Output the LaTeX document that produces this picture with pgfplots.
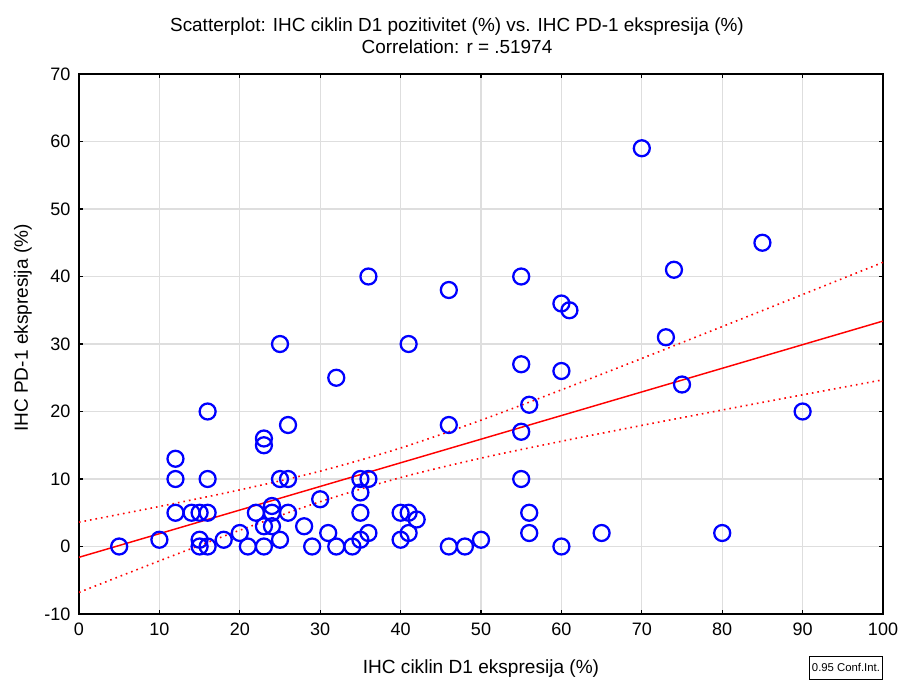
\documentclass[border=0pt]{standalone}
\usepackage{fontspec}
\setmainfont{Liberation Sans}
\usepackage{pgfplots}
\pgfplotsset{compat=1.18}
\usepackage{pgfplotstable}

% IHC ciklin D1 (x) vs. IHC PD-1 (y), one row per case
\pgfplotstableread{
x y
5 0
10 1
12 13
12 10
12 5
14 5
15 5
15 1
15 0
16 5
16 0
16 10
16 20
18 1
20 2
21 0
22 5
23 16
23 15
23 3
23 0
24 6
24 5
24 3
25 10
25 30
25 1
26 10
26 18
26 5
28 3
29 0
30 7
31 2
32 25
32 0
34 0
35 1
35 10
35 8
35 5
36 2
36 10
36 40
40 5
40 1
41 5
41 2
41 30
42 4
46 38
46 18
46 0
48 0
50 1
55 40
55 27
55 17
55 10
56 21
56 5
56 2
60 36
60 26
60 0
61 35
65 2
70 59
73 31
74 41
75 24
80 2
85 45
90 20
}\scatterdata

% fitted line with its 0.95 confidence band
\pgfplotstableread{
x fit lo hi
0 -1.6 -6.8 3.6
10 1.9 -2.13 5.93
20 5.4 2.41 8.39
30 8.9 6.64 11.16
40 12.4 10.21 14.59
50 15.9 13.09 18.71
60 19.4 15.59 23.21
70 22.9 17.94 27.86
80 26.4 20.22 32.58
90 29.9 22.47 37.33
100 33.4 24.7 42.1
}\fitdata

\begin{document}
\begin{tikzpicture}[x=0.75pt,y=0.75pt]
% page frame: 903 x 679 px, axis box at px (79..883, 74..614)
\path[use as bounding box] (-79,-65) rectangle (824,614);
\begin{axis}[
  at={(0,0)}, anchor=south west,
  scale only axis,
  width=603pt, height=405pt,
  xmin=0, xmax=100, ymin=-10, ymax=70,
  xtick={0,10,...,100}, ytick={-10,0,...,70},
  tick align=inside,
  major tick length=3pt,
  tick style={black, line width=0.8pt},
  grid=major,
  major grid style={draw=black!13, line width=1pt},
  axis line style={black, line width=1.1pt},
  ticklabel style={font=\fontsize{13.5}{15}\selectfont},
  /pgf/number format/assume math mode=true,
  yticklabel style={xshift=-3pt},
  xticklabel style={yshift=-3pt},
  xlabel={IHC ciklin D1 ekspresija (\%)},
  ylabel={IHC PD-1 ekspresija (\%)},
  label style={font=\fontsize{14.3}{16}\selectfont},
  xlabel style={yshift=-11.5pt},
  ylabel style={yshift=2.5pt, xshift=12pt},
  title={Scatterplot: IHC ciklin D1 pozitivitet (\%) vs. IHC PD-1 ekspresija (\%)\\Correlation: r = .51974},
  title style={font=\fontsize{14.2}{16.5}\selectfont, align=center, yshift=5.5pt, xshift=-18pt},
  clip=true,
]
\addplot[red, line width=1.1pt] table[x=x, y=fit] {\fitdata};
\addplot[red, line width=1.2pt, dash pattern=on 1.2pt off 3pt, smooth] table[x=x, y=hi] {\fitdata};
\addplot[red, line width=1.2pt, dash pattern=on 1.2pt off 3pt, smooth] table[x=x, y=lo] {\fitdata};
\addplot[only marks, mark=o, mark size=6pt, mark options={draw=blue, line width=1.7pt}] table[x=x, y=y] {\scatterdata};
\end{axis}
\node[draw=black, line width=0.5pt, anchor=north east, inner xsep=2pt, minimum height=17pt, font=\fontsize{8.5}{10}\selectfont, fill=white]
  at ([yshift=-31.5pt]current axis.south east) {0.95 Conf.Int.};
\end{tikzpicture}
\end{document}
